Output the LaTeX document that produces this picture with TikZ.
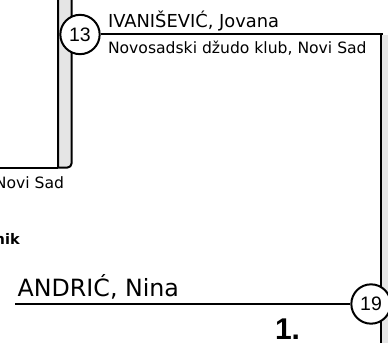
\documentclass[tikz,border=0pt]{standalone}
\usepackage{fontspec}
\setmainfont{DejaVu Sans}
\newfontfamily\numfont{Liberation Sans}
\usepackage{xcolor}
\usepackage{tikz}
\usetikzlibrary{calc}

\tikzset{
  bout/.style={circle, draw, fill=white, line width=1.5pt, minimum size=29.5pt, inner sep=0pt, font=\numfont\fontsize{14.6}{16}\selectfont},
  txt/.style={inner sep=0pt},
  bar/.style={draw, fill=gray!20, line width=1.5pt}
}

\begin{document}
\begin{tikzpicture}[x=0.75pt, y=-0.75pt, line width=1.5pt]
    \useasboundingbox (0,0) rectangle (388,342);
    \clip (0,0) rectangle (388,342);
    % Bars
    \draw[bar] (58,-5) -- (58,167.5) [rounded corners=3pt] -- (71.5,167.5) -- (71.5,-5);
    \fill[gray!20] (382,35.5) rectangle (395,360);
    \coordinate (corner) at (382.5,34.5);
    \draw (381,34.5) -- (381,360);
    % Left entry
    \draw (-5,167.5) -- (58,167.5);
    \node[txt, anchor=base east, font=\fontsize{11.7}{14}\selectfont] (club1) at (65,188) {Novi Sad};
    \node[txt, anchor=base east, font=\bfseries\fontsize{10.9}{13}\selectfont] (lab) at (20.7,244) {nik};
    % Bouts
    \node[bout] (b13) at (80,34.5) {13};
    \node[bout] (b19) at (371,304) {19};
    \coordinate (start) at (15,304);
    % Lines
    \draw (b13) -- (corner);
    \draw (start) -- (b19);
    % Names
    \node[txt, anchor=base west, font=\fontsize{13.4}{16}\selectfont] (name1) at (107,28) {IVANIŠEVIĆ, Jovana};
    \node[txt, anchor=base west, font=\fontsize{11.7}{14}\selectfont] (club2) at (107,54) {Novosadski džudo klub, Novi Sad};
    \node[txt, anchor=base west, font=\fontsize{17.8}{21}\selectfont] (name2) at (16.7,296) {ANDRIĆ, Nina};
    \node[txt, anchor=base west, font=\numfont\bfseries\fontsize{22.5}{26}\selectfont] (place) at (274,339.5) {1.};
\end{tikzpicture}
\end{document}
